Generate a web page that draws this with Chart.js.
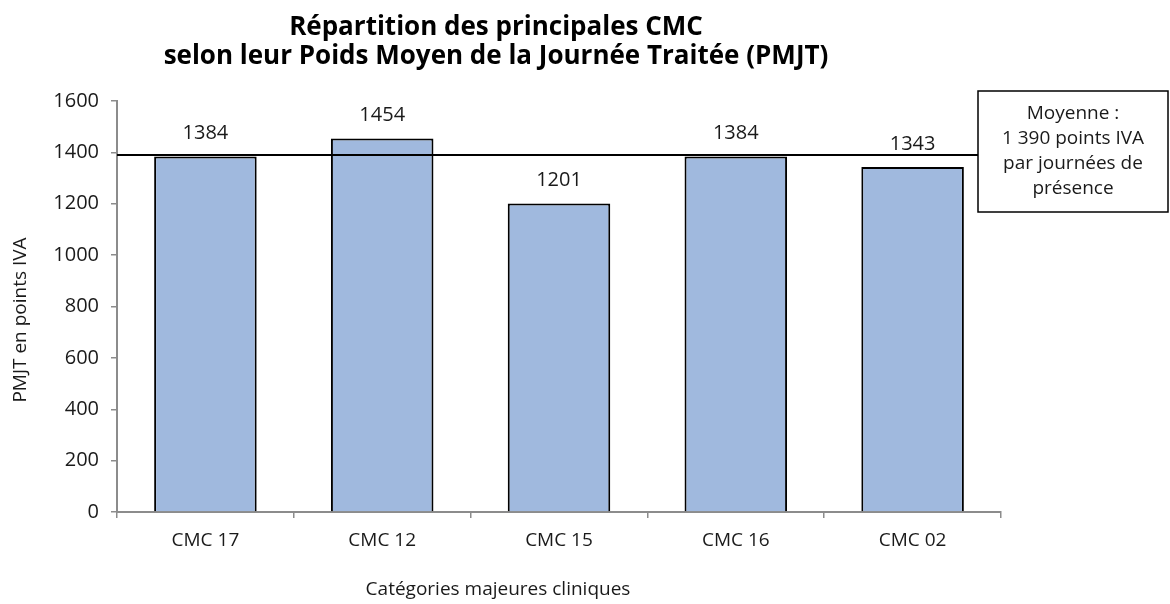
<!DOCTYPE html>
<html>
<head>
<meta charset="utf-8">
<script src="https://cdn.jsdelivr.net/npm/chart.js@4"></script>
<style>
  html, body { margin: 0; padding: 0; background: #fff; }
  #wrap { width: 1170px; height: 604px; }
</style>
</head>
<body>
<div id="wrap"><canvas id="mainChart" width="1170" height="604"></canvas></div>
<script>
const categories = ['CMC 17', 'CMC 12', 'CMC 15', 'CMC 16', 'CMC 02'];
const pmjtValues = [1384, 1454, 1201, 1384, 1343];
const averageValue = 1390;
const yTicks = [0, 200, 400, 600, 800, 1000, 1200, 1400, 1600];
const titleLines = ['Répartition des principales CMC', 'selon leur Poids Moyen de la Journée Traitée (PMJT)'];
const noteLines = ['Moyenne :', '1 390 points IVA', 'par journées de', 'présence'];
const xTitle = 'Catégories majeures cliniques';
const yTitle = 'PMJT en points IVA';

const FONT = "'Open Sans', 'Noto Sans', sans-serif";
const AXIS = '#8c8c8c';
const TXT = '#1a1a1a';

// titres, etiquettes de valeurs, ligne de moyenne et encadre
const extras = {
  id: 'extras',
  afterDatasetsDraw(chart) {
    const { ctx, chartArea, scales } = chart;
    ctx.save();

    // ligne de moyenne
    const yAvg = scales.y.getPixelForValue(averageValue);
    const boxLeft = 978;
    ctx.strokeStyle = '#000';
    ctx.lineWidth = 2;
    ctx.beginPath();
    ctx.moveTo(chartArea.left, yAvg);
    ctx.lineTo(boxLeft, yAvg);
    ctx.stroke();

    // valeurs au-dessus des barres
    ctx.fillStyle = TXT;
    ctx.font = `20px ${FONT}`;
    ctx.textAlign = 'center';
    ctx.textBaseline = 'middle';
    chart.getDatasetMeta(0).data.forEach((bar, i) => {
      ctx.fillText(String(pmjtValues[i]), bar.x, bar.y - 23);
    });

    // encadre
    ctx.fillStyle = '#fff';
    ctx.fillRect(boxLeft, 91, 190, 121);
    ctx.strokeStyle = '#000';
    ctx.lineWidth = 1.5;
    ctx.strokeRect(boxLeft, 91, 190, 121);
    ctx.fillStyle = TXT;
    ctx.font = `19px ${FONT}`;
    noteLines.forEach((t, i) => ctx.fillText(t, boxLeft + 95, 114 + i * 25));

    // titre
    ctx.fillStyle = '#000';
    ctx.font = `bold 26px ${FONT}`;
    titleLines.forEach((t, i) => ctx.fillText(t, 496, 28 + i * 29));

    // titre axe x
    ctx.fillStyle = TXT;
    ctx.font = `19px ${FONT}`;
    ctx.fillText(xTitle, 498, 590);

    // titre axe y
    ctx.translate(21, 320);
    ctx.rotate(-Math.PI / 2);
    ctx.fillText(yTitle, 0, 0);

    ctx.restore();
  },
};

new Chart(document.getElementById('mainChart'), {
  type: 'bar',
  data: {
    labels: categories,
    datasets: [{
      data: pmjtValues,
      backgroundColor: '#a0b9de',
      borderColor: '#000',
      borderWidth: 2,
      categoryPercentage: 1,
      barPercentage: 0.58,
    }],
  },
  options: {
    responsive: false,
    animation: false,
    layout: { padding: { left: 0, right: 169, top: 101, bottom: 0 } },
    plugins: {
      legend: { display: false },
      title: { display: false },
      tooltip: { enabled: false },
    },
    scales: {
      x: {
        grid: { offset: true, drawOnChartArea: false, tickLength: 6, color: AXIS, lineWidth: 1.5 },
        border: { color: AXIS, width: 2 },
        ticks: { color: TXT, font: { family: FONT, size: 19 }, padding: 11 },
        afterFit: (s) => { s.height = 92; },
      },
      y: {
        min: 0,
        max: 1600,
        afterBuildTicks: (s) => { s.ticks = yTicks.map((v) => ({ value: v })); },
        grid: { drawOnChartArea: false, tickLength: 6, color: AXIS, lineWidth: 1.5 },
        border: { color: AXIS, width: 2 },
        ticks: {
          color: TXT,
          font: { family: FONT, size: 20 },
          padding: 12,
          callback: (v) => String(v),
        },
        afterFit: (s) => { s.width = 117; },
      },
    },
  },
  plugins: [extras],
});
</script>
</body>
</html>
